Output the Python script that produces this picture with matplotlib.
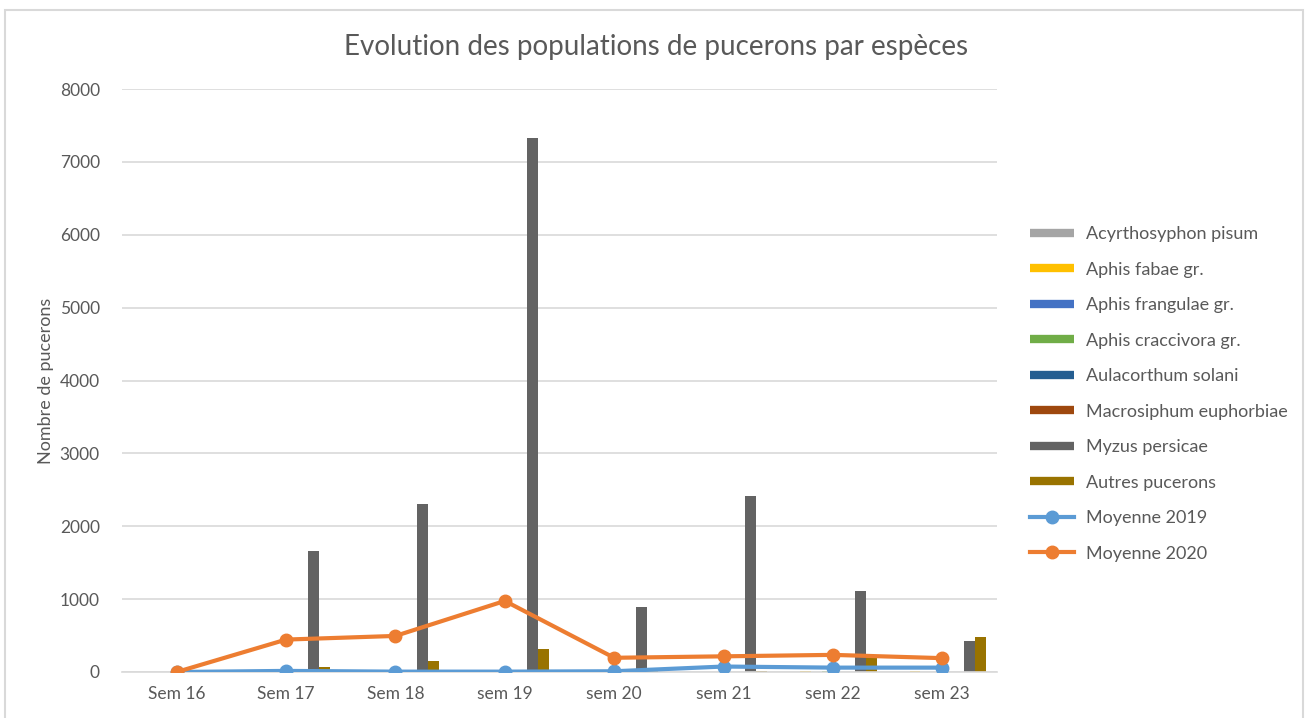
import matplotlib.pyplot as plt
import numpy as np
from matplotlib.lines import Line2D
from matplotlib.patches import Rectangle

plt.rcParams['font.family'] = ['Lato', 'DejaVu Sans']

weeks = ['Sem 16', 'Sem 17', 'Sem 18', 'sem 19', 'sem 20', 'sem 21', 'sem 22', 'sem 23']
species = ['Acyrthosyphon pisum', 'Aphis fabae gr.', 'Aphis frangulae gr.',
           'Aphis craccivora gr.', 'Aulacorthum solani', 'Macrosiphum euphorbiae',
           'Myzus persicae', 'Autres pucerons']
acyrthosyphon = [0, 0, 0, 0, 0, 0, 0, 0]
fabae = [0, 0, 0, 0, 0, 5, 15, 15]
frangulae = [0, 0, 0, 0, 0, 0, 0, 0]
craccivora = [0, 0, 0, 0, 0, 0, 20, 5]
aulacorthum = [0, 0, 0, 0, 0, 0, 0, 0]
macrosiphum = [0, 0, 0, 0, 0, 0, 0, 0]
myzus = [0, 1660, 2305, 7325, 892, 2420, 1115, 430]
autres = [0, 75, 147, 315, 12, 15, 200, 485]
moy_2019 = [0, 15, 5, 5, 10, 75, 60, 60]
moy_2020 = [0, 445, 495, 975, 195, 215, 235, 190]

bar_series = [acyrthosyphon, fabae, frangulae, craccivora, aulacorthum, macrosiphum, myzus, autres]
bar_colors = ['#A5A5A5', '#FFC000', '#4472C4', '#70AD47', '#255E91', '#9E480E', '#636363', '#997300']

fig = plt.figure(figsize=(13.09, 7.18), dpi=100)
fig.patches.append(Rectangle((5 / 1309, -0.01), 1298 / 1309, 1 - 10 / 718 + 0.01,
                             transform=fig.transFigure, fill=False, ec='#d9d9d9', lw=1.5))
ax = fig.add_axes([122 / 1309, 1 - 672 / 718, 875 / 1309, 583 / 718])

x = np.arange(len(weeks))
w = 0.1
for i, (vals, col) in enumerate(zip(bar_series, bar_colors)):
    ax.bar(x + (i - 3.5) * w, vals, w, color=col, zorder=2)

ax.plot(x, moy_2019, color='#5B9BD5', lw=3, marker='o', ms=9, zorder=3)
ax.plot(x, moy_2020, color='#ED7D31', lw=3, marker='o', ms=9, zorder=4)

ax.set_xlim(-0.5, 7.5)
ax.set_ylim(0, 8000)
ax.set_yticks(range(0, 8001, 1000))
ax.set_xticks(x)
ax.set_xticklabels(weeks)
ax.yaxis.grid(True, color='#d9d9d9', lw=1.2, zorder=0)
ax.set_axisbelow(True)
for s in ['top', 'right', 'left']:
    ax.spines[s].set_visible(False)
ax.spines['bottom'].set_color('#d9d9d9')
ax.spines['bottom'].set_linewidth(1.2)
ax.tick_params(axis='both', length=0, labelsize=12.5, labelcolor='#595959')
ax.tick_params(axis='y', pad=16)
ax.tick_params(axis='x', pad=10)
ax.set_ylabel('Nombre de pucerons', fontsize=13, color='#595959')
ax.yaxis.set_label_coords(-76 / 875, 0.5)
ax.yaxis.label.set_va('center')

fig.text(656 / 1309, 1 - 47 / 718, 'Evolution des populations de pucerons par espèces',
         ha='center', va='center', fontsize=20, color='#595959')

handles = [Line2D([], [], color=c, lw=6, solid_capstyle='butt') for c in bar_colors]
handles += [Line2D([], [], color='#5B9BD5', lw=3, marker='o', ms=9),
            Line2D([], [], color='#ED7D31', lw=3, marker='o', ms=9)]
labels = species + ['Moyenne 2019', 'Moyenne 2020']
fig.legend(handles, labels, loc='center left', bbox_to_anchor=(1014 / 1309, 1 - 394 / 718),
           frameon=False, fontsize=13, labelcolor='#595959', labelspacing=1.08,
           handlelength=2.4, handletextpad=0.7)

fig.savefig('out.png', dpi=100)
